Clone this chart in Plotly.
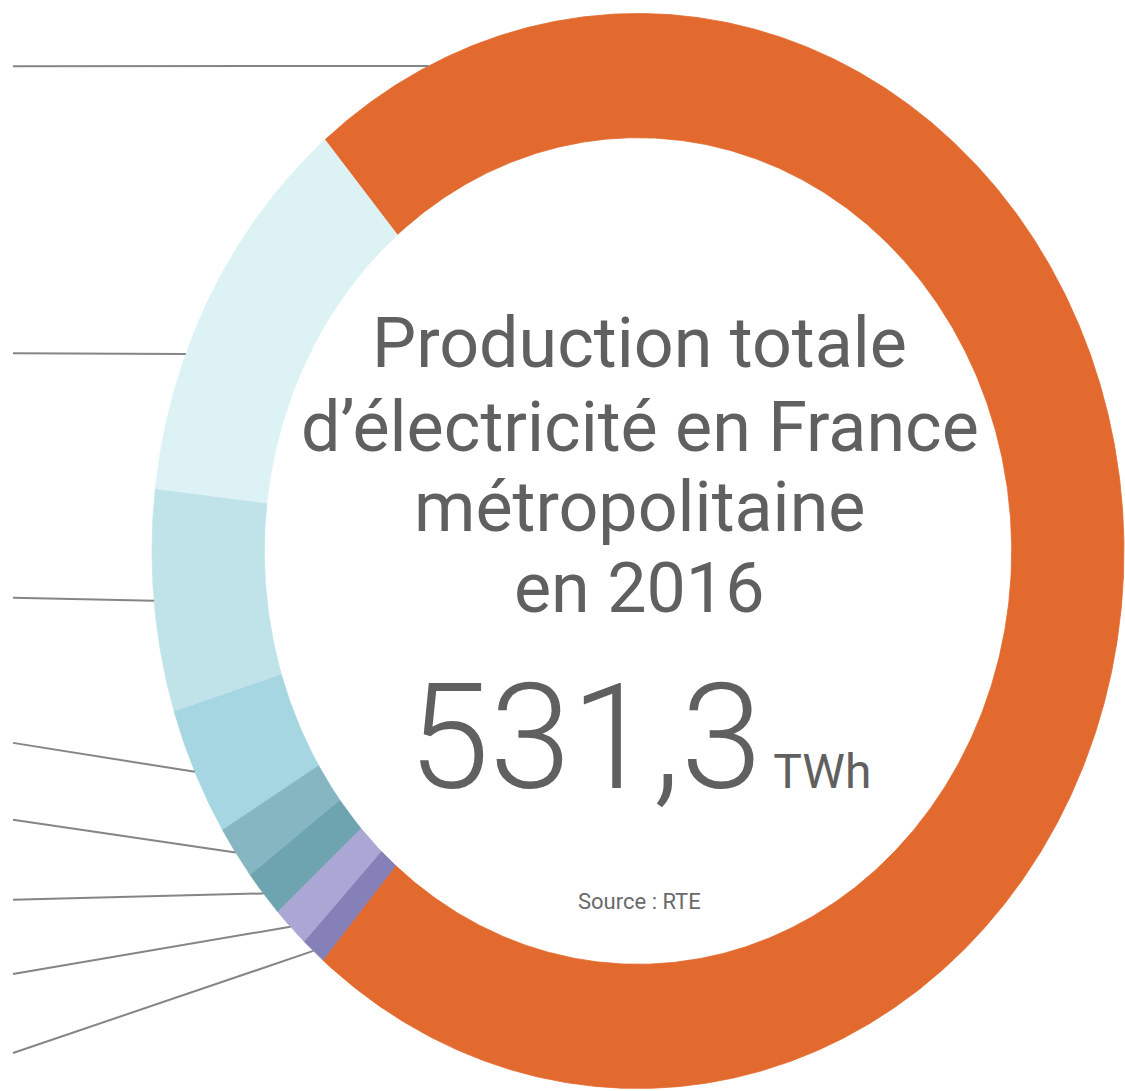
import numpy as np
import plotly.graph_objects as go

# Production d'électricité 2016 (TWh), dans l'ordre des légendes
sources = ["Nucléaire", "Hydraulique", "Gaz", "Éolien",
           "Bioénergies", "Solaire", "Charbon", "Fioul"]
production_twh = [384.5, 63.8, 35.4, 20.5, 8.6, 7.5, 6.6, 4.4]
colors = ["#E26A2F", "#DDF2F5", "#C0E3EA", "#A6D6E1",
          "#86B6C1", "#6EA4B0", "#ABA7D5", "#8580B7"]

title_lines = ["Production totale", "d’électricité en France",
               "métropolitaine", "en 2016"]
total_label = "531,3"
unit_label = "TWh"
source_label = "Source : RTE"

# Ring geometry (unit outer radius, axes stretch it to an ellipse)
START_ANGLE = 130.1      # degrees, counter-clockwise from east
HOLE = 0.769
# where each leader line touches its slice (fraction along the slice)
leader_frac = [0.056, 0.343, 0.5, 0.5, 0.5, 0.5, 0.5, 0.5]
# vertical position of the outer (left) end of each leader line
leader_left_y = [0.902, 0.368, -0.087, -0.357, -0.500, -0.649, -0.787, -0.934]
LEADER_LEFT_X = -1.286

total = sum(production_twh)
# slices run clockwise from the start angle: nuclear first, then the rest in reverse
draw_order = [0] + list(range(len(sources) - 1, 0, -1))

fig = go.Figure()
spans = {}
angle = START_ANGLE
for i in draw_order:
    sweep = 360.0 * production_twh[i] / total
    a0, a1 = angle, angle - sweep
    spans[i] = (a0, a1)
    t = np.radians(np.linspace(a0, a1, max(8, int(sweep * 3))))
    xs = np.concatenate([np.cos(t), HOLE * np.cos(t[::-1])])
    ys = np.concatenate([np.sin(t), HOLE * np.sin(t[::-1])])
    fig.add_trace(go.Scatter(
        x=np.append(xs, xs[0]), y=np.append(ys, ys[0]),
        mode="lines", fill="toself", fillcolor=colors[i],
        line=dict(color=colors[i], width=0.8),
        name=sources[i], hoverinfo="name", showlegend=False))
    angle = a1

# leader lines
for i in range(len(sources)):
    a0, a1 = spans[i]
    a = np.radians(a0 + leader_frac[i] * (a1 - a0))
    fig.add_trace(go.Scatter(
        x=[LEADER_LEFT_X, np.cos(a)], y=[leader_left_y[i], np.sin(a)],
        mode="lines", line=dict(color="#858585", width=2),
        hoverinfo="skip", showlegend=False))

text_color = "#606060"
title_y = [0.387, 0.231, 0.082, -0.069]
for line, y in zip(title_lines, title_y):
    fig.add_annotation(x=0.004, y=y, text=line, showarrow=False,
                       xanchor="center", yanchor="middle",
                       font=dict(family="Roboto", size=70, color=text_color))

fig.add_annotation(
    x=0.004, y=-0.348,
    text=(f"{total_label}<span style='font-size:48px;font-weight:400'>"
          f" {unit_label}</span>"),
    showarrow=False, xanchor="center", yanchor="middle",
    font=dict(family="Roboto", size=147, color=text_color, weight=300))

fig.add_annotation(x=0.004, y=-0.653, text=source_label, showarrow=False,
                   xanchor="center", yanchor="middle",
                   font=dict(family="Roboto", size=22, color="#6A6A6A"))

fig.update_xaxes(visible=False, range=[-1.3128, 1.0021], fixedrange=True)
fig.update_yaxes(visible=False, range=[-1.0047, 1.0251], fixedrange=True)
fig.update_layout(width=1125, height=1091,
                  margin=dict(l=0, r=0, t=0, b=0),
                  paper_bgcolor="white", plot_bgcolor="white",
                  showlegend=False)

fig.write_html("out.html")
